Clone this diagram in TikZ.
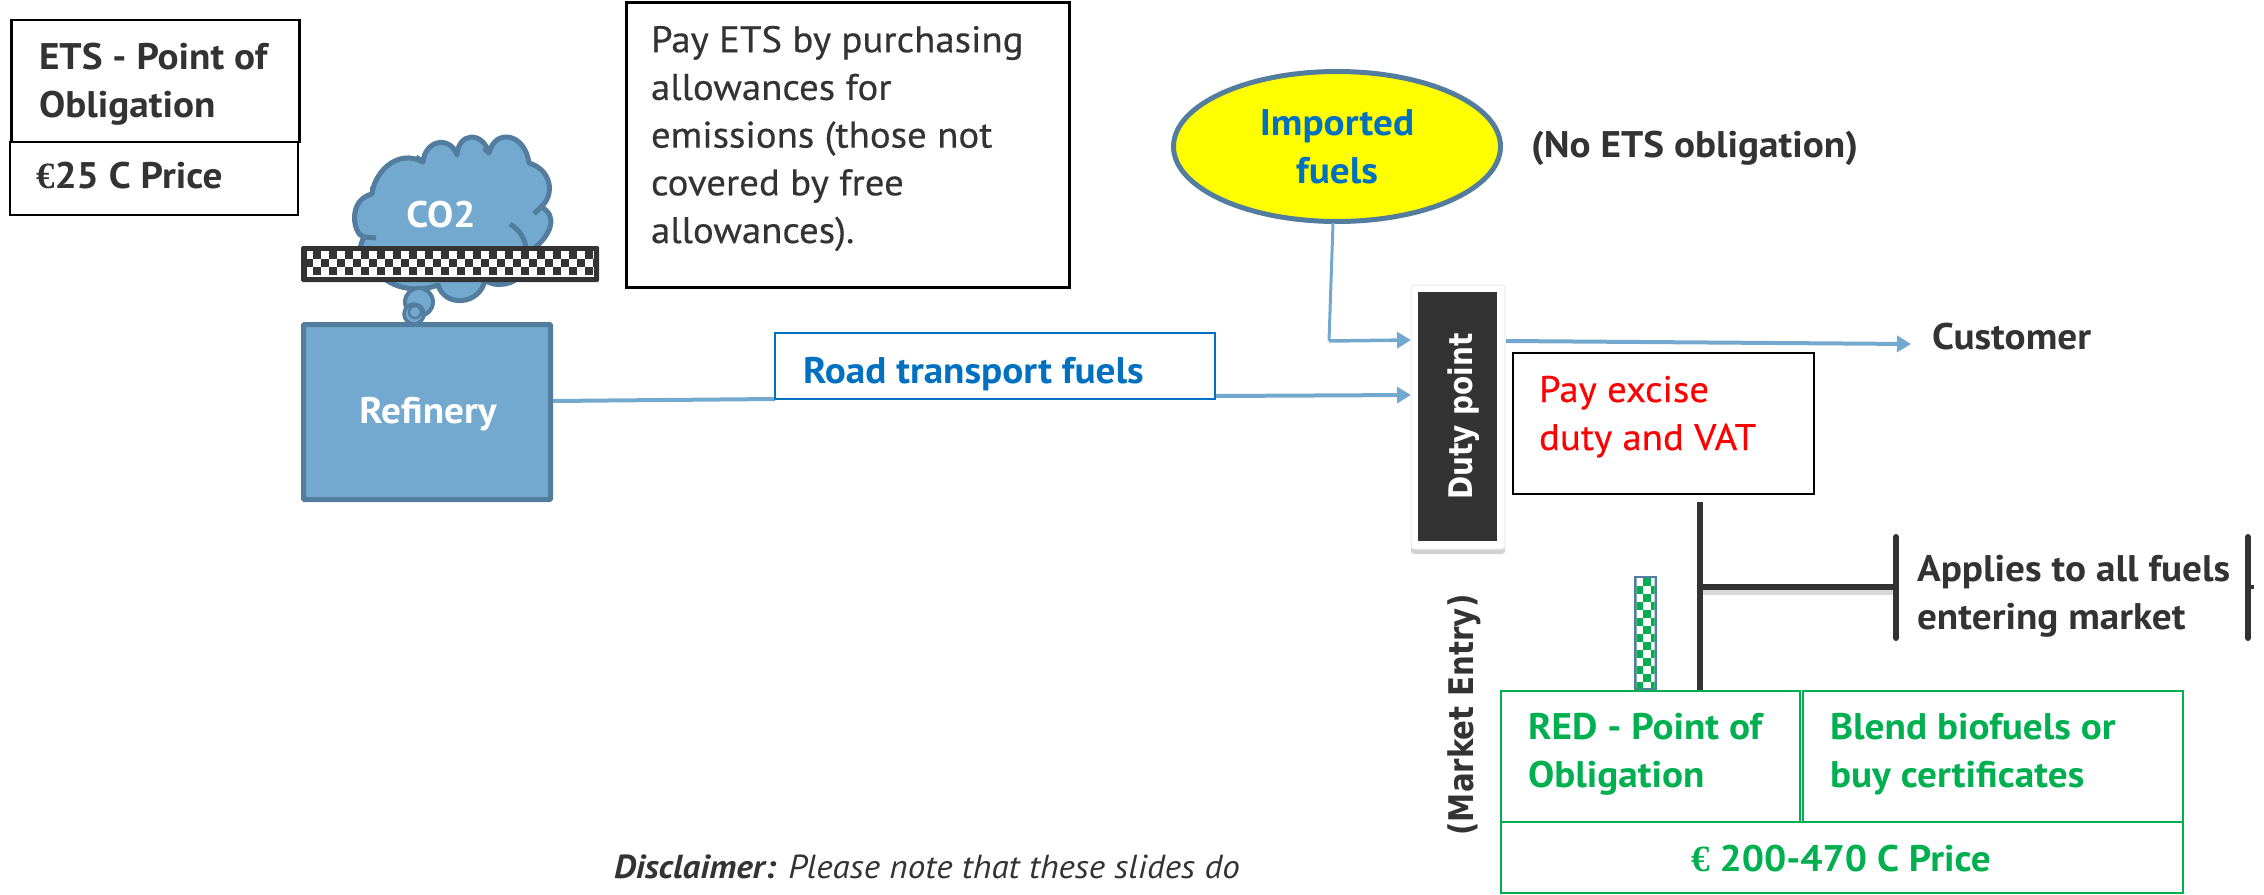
\documentclass[tikz,border=0pt]{standalone}
\usepackage{fontspec}
\setmainfont{PT Sans}[FakeStretch=1.055,BoldFeatures={FakeStretch=1.06}]
\newfontfamily\medfont{PT Sans}[FakeStretch=1.05,FakeBold=0.4]
\newfontfamily\widefont{DejaVu Sans}[FakeStretch=0.86]
\newfontfamily\eurofont{Liberation Serif}
\usetikzlibrary{arrows.meta,shapes.geometric}
\definecolor{ink}{HTML}{333333}
\definecolor{flow}{HTML}{74A9CF}
\definecolor{edgeblue}{HTML}{527D9E}
\definecolor{roadblue}{HTML}{0070C0}
\definecolor{greenred}{HTML}{00B050}
\definecolor{brightyellow}{HTML}{FFFF00}
\definecolor{brightred}{HTML}{FF0000}
\tikzset{
  x=1pt,y=-1pt,
  box/.style={draw,rectangle,inner sep=0pt,outer sep=0pt},
  blackbox/.style={box,draw=black,line width=2.5pt,fill=white},
  greenbox/.style={box,draw=greenred,line width=2.5pt,fill=white},
  txt/.style={anchor=base west,inner sep=0pt,outer sep=0pt,align=left,font=\fontsize{37}{47.5}\selectfont\bfseries,text=ink},
  plain/.style={txt,font=\fontsize{37}{47.7}\selectfont\medfont},
  cen/.style={txt,anchor=base,align=center},
  flowline/.style={draw=flow,line width=4pt},
  flowarrow/.style={flowline,-{Triangle[length=14pt,width=16pt]}},
  barline/.style={draw=ink,line width=6pt,line cap=round},
  glow/.style={draw=black!15,line width=5pt},
}
\begin{document}
\begin{tikzpicture}
\useasboundingbox (0,0) rectangle (2264,894);
% left legend
\node[blackbox,minimum width=288pt,minimum height=122pt] (etsbox) at (155.5,81) {};
\node[blackbox,minimum width=288pt,minimum height=73pt] (pricebox) at (154,178.5) {};
\node[txt] (etstxt) at (39,117) {ETS - Point of\\Obligation};
\node[txt] (pricetxt) at (36,188) {{\eurofont €}25 C Price};
% cloud
\draw[draw=edgeblue,fill=flow,line width=5pt,line join=round]
  (372,194) .. controls (374,173) and (397,148) .. (423,162)
  .. controls (425,140) and (450,135) .. (457,155)
  .. controls (458,133) and (482,130) .. (489,153)
  .. controls (495,128) and (525,133) .. (529,163)
  .. controls (552,170) and (555,195) .. (541,207)
  .. controls (558,215) and (552,235) .. (532,250)
  .. controls (530,265) and (520,282) .. (505,284)
  .. controls (495,285) and (490,284) .. (485,280)
  .. controls (480,305) and (445,308) .. (438,285)
  .. controls (420,292) and (395,290) .. (380,275)
  .. controls (362,265) and (355,255) .. (364,237)
  .. controls (353,235) and (347,200) .. (372,194) -- cycle;
\draw[draw=edgeblue,line width=5pt] (510,224) .. controls (520,230) and (526,240) .. (526,250);
\draw[draw=edgeblue,line width=5pt] (364,237) -- (376,238);
\draw[draw=edgeblue,line width=5pt] (372,194) -- (372,187);
\draw[draw=edgeblue,line width=5pt] (423,162) -- (416,157);
\draw[draw=edgeblue,line width=5pt] (457,155) -- (456,147);
\draw[draw=edgeblue,line width=5pt] (489,153) -- (484,148);
\draw[draw=edgeblue,line width=5pt] (541,207) -- (534,214);
\draw[draw=edgeblue,fill=flow,line width=4pt] (419,302) circle[radius=14];
\draw[draw=edgeblue,fill=flow,line width=3.5pt] (414,314) circle[radius=10];
\draw[draw=edgeblue,line width=2.5pt] (415,312) circle[radius=6];
\node[cen,text=white] (co2) at (441,227) {CO2};
% checker bar
\fill[ink,rounded corners=1.5pt] (301,246) rectangle (599,282);
\begin{scope}
\clip (307,251) rectangle (594,276.5);
\fill[white] (307,251) rectangle (594,277);
\foreach \i in {0,...,36}{\foreach \j in {0,1,2}{
  \pgfmathtruncatemacro{\m}{mod(\i+\j,2)}
  \ifnum\m=1 \fill[ink] (305+8*\i,251+8*\j) rectangle +(8,8);\fi}}
\end{scope}
% refinery
\node[box,draw=edgeblue,fill=flow,line width=5pt,rounded corners=1pt,minimum width=247pt,minimum height=175pt] (refinery) at (427,412) {};
\node[cen,text=white] (reftxt) at (428,423) {Refinery};
% ETS payment box
\node[blackbox,minimum width=443pt,minimum height=285pt] (paybox) at (848,145) {};
\node[plain] (paytxt) at (651,243) {Pay ETS by purchasing\\allowances for\\emissions (those not\\covered by free\\allowances).};
% coordinates of the flows
\coordinate (refout) at (553,401);
\coordinate (roadin) at (775,399);
\coordinate (roadout) at (1215,396);
\coordinate (dutyroad) at (1411,395);
\coordinate (elbow) at (1329,341);
\coordinate (dutyimp) at (1411,340);
\coordinate (dutyout) at (1506,341);
\coordinate (custin) at (1911,344);
\coordinate (ellout) at (1333,223);
% road transport
\draw[flowline] (refout) -- (roadin);
\draw[flowarrow] (roadout) -- (dutyroad);
\node[box,draw=roadblue,line width=2.5pt,fill=white,minimum width=440pt,minimum height=66pt] (road) at (995,366) {};
\node[txt,text=roadblue] (roadtxt) at (803,383) {Road transport fuels};
% imported
\node[ellipse,draw=edgeblue,fill=brightyellow,line width=5pt,inner sep=0pt,outer sep=0pt,minimum width=327pt,minimum height=150pt] (imported) at (1337,146.5) {};
\node[cen,text=roadblue] (imptxt) at (1337,183) {Imported\\fuels};
\node[txt] (noets) at (1531,157) {(No ETS obligation)};
\draw[draw=flow,line width=3pt] (ellout) -- (elbow);
\draw[flowarrow,line width=3.5pt] (elbow) -- (dutyimp);
% duty point
\fill[black!18,rounded corners=3pt] (1411,290) rectangle (1505,554);
\node[box,draw=black!8,fill=white,line width=1pt,rounded corners=3pt,minimum width=94pt,minimum height=264pt] (dutyw) at (1458,417) {};
\node[box,draw=none,fill=ink,minimum width=79pt,minimum height=249pt] (duty) at (1457.5,416.5) {};
\node[anchor=base,rotate=90,inner sep=0pt,text=white,font=\fontsize{32.5}{38}\selectfont\widefont\bfseries] (dutytxt) at (1472,416.5) {Duty point};
\draw[flowarrow] (dutyout) -- (custin);
\node[txt] (customer) at (1932,349) {Customer};
% excise
\node[blackbox,minimum width=301pt,minimum height=141pt] (excise) at (1663.5,423.5) {};
\node[txt,text=brightred,font=\fontsize{37}{48}\selectfont\medfont] (excisetxt) at (1539,450) {Pay excise\\duty and VAT};
% bracket
\coordinate (vtop) at (1700,502);
\coordinate (vbot) at (1700,692);
\coordinate (hleft) at (1700,587);
\coordinate (hright) at (1896,587);
\coordinate (bl1) at (1896,537);
\coordinate (bl2) at (1896,638);
\coordinate (br1) at (2248,537);
\coordinate (br2) at (2248,638);
\coordinate (st1) at (2248,587);
\coordinate (st2) at (2254,587);
\draw[glow] ([yshift=-5pt]hleft) -- ([yshift=-5pt]hright);
\draw[barline,line cap=butt,line width=5.5pt] (vtop) -- (vbot);
\draw[barline,line cap=butt,line width=6.5pt] (hleft) -- (hright);
\draw[barline] (bl1) -- (bl2);
\draw[barline] (br1) -- (br2);
\draw[barline,line cap=butt,line width=4pt] (st1) -- (st2);
\node[txt] (applies) at (1917,629) {Applies to all fuels\\entering market};
% green checker column
\fill[edgeblue] (1634,576) rectangle (1657,691);
\begin{scope}
\clip (1636.5,578.5) rectangle (1654.5,688);
\fill[white] (1636,578) rectangle (1655,688);
\foreach \i in {0,1,2}{\foreach \j in {0,...,14}{
  \pgfmathtruncatemacro{\m}{mod(\i+\j,2)}
  \ifnum\m=1 \fill[greenred] (1634.5+8*\i,578+8*\j) rectangle +(8,8);\fi}}
\end{scope}
% green boxes
\node[greenbox,minimum width=299pt,minimum height=131pt] (redbox) at (1650.5,756.5) {};
\node[greenbox,minimum width=380pt,minimum height=131pt] (blendbox) at (1993,756.5) {};
\node[greenbox,minimum width=682pt,minimum height=71pt] (greenprice) at (1842,857.5) {};
\node[txt,text=greenred] (redtxt) at (1528,787) {RED - Point of\\Obligation};
\node[txt,text=greenred] (blendtxt) at (1830,787) {Blend biofuels or\\buy certificates};
\node[cen,text=greenred] (gpricetxt) at (1841,871) {{\eurofont €} 200-470 C Price};
\node[anchor=base,rotate=90,inner sep=0pt,text=ink,font=\fontsize{34}{40}\selectfont\widefont\bfseries] (market) at (1473,715) {(Market Entry)};
% disclaimer
\node[txt,font=\fontsize{33.3}{40}\selectfont\itshape] (disc) at (614,878) {\textbf{Disclaimer:} Please note that these slides do};
\end{tikzpicture}
\end{document}
